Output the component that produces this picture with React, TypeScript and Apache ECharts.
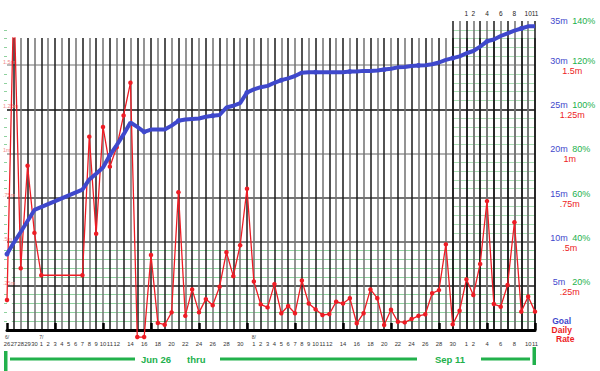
import React, { useEffect, useRef } from 'react';
import * as echarts from 'echarts';

// ---------- data ----------
const days: string[] = [
  '6/26', '6/27', '6/28', '6/29', '6/30',
  '7/1', '7/2', '7/3', '7/4', '7/5', '7/6', '7/7', '7/8', '7/9', '7/10', '7/11', '7/12', '7/13', '7/14', '7/15', '7/16',
  '7/17', '7/18', '7/19', '7/20', '7/21', '7/22', '7/23', '7/24', '7/25', '7/26', '7/27', '7/28', '7/29', '7/30', '7/31',
  '8/1', '8/2', '8/3', '8/4', '8/5', '8/6', '8/7', '8/8', '8/9', '8/10', '8/11', '8/12', '8/13', '8/14', '8/15', '8/16',
  '8/17', '8/18', '8/19', '8/20', '8/21', '8/22', '8/23', '8/24', '8/25', '8/26', '8/27', '8/28', '8/29', '8/30', '8/31',
  '9/1', '9/2', '9/3', '9/4', '9/5', '9/6', '9/7', '9/8', '9/9', '9/10', '9/11',
];

// daily rate (m per day)
const dailyRate: (number | null)[] = [
  0.17, 1.9, 0.35, 0.93, 0.55,
  0.31, null, null, null, null, null, 0.31, 1.095, 0.545, 1.15, 0.925, 1.035, 1.215, 1.4, -0.04, -0.04,
  0.425, 0.04, 0.03, 0.1, 0.78, 0.08, 0.23, 0.1, 0.175, 0.14, 0.245, 0.44, 0.305, 0.48, 0.8,
  0.275, 0.145, 0.128, 0.26, 0.095, 0.136, 0.095, 0.28, 0.15, 0.117, 0.085, 0.09, 0.16, 0.15, 0.18, 0.038,
  0.095, 0.23, 0.18, 0.028, 0.115, 0.047, 0.043, 0.062, 0.08, 0.089, 0.208, 0.226, 0.485, 0.032, 0.109,
  0.287, 0.198, 0.374, 0.73, 0.147, 0.132, 0.255, 0.61, 0.104, 0.19, 0.104,
];

// cumulative progress toward goal (m)
const goalProgress: (number | null)[] = [
  8.6, 9.9, 11.1, 12.35, 13.6,
  null, null, null, null, null, null, 15.9, 17.05, 17.7, 18.4, 19.8, 20.95, 22.15, 23.5, 23.0, 22.45,
  22.7, 22.7, 22.7, 23.15, 23.7, 23.85, 23.9, 23.95, 24.15, 24.27, 24.35, 25.2, 25.4, 25.7, 26.9,
  27.25, 27.5, 27.65, 28.0, 28.3, 28.5, 28.77, 29.15, 29.2, 29.2, 29.2, 29.2, 29.2, 29.2, 29.27, 29.27,
  29.35, 29.35, 29.4, 29.5, 29.6, 29.75, 29.8, 29.9, 29.97, 30.0, 30.1, 30.3, 30.6, 30.8, 31.0,
  31.35, 31.6, 32.1, 32.7, 32.9, 33.3, 33.6, 33.9, 34.15, 34.4, 34.4,
];

const rateTicks = ['Daily', '.25m', '.5m', '.75m', '1m', '1.25m', '1.5m', ''];
const goalTicks = ['Goal', '5m', '10m', '15m', '20m', '25m', '30m', '35m'];
const pctTicks = ['', '20%', '40%', '60%', '80%', '100%', '120%', '140%'];
const leftTicks = ['', '.25m', '.5m', '.75m', '1m', '1.25m', '1.5m', ''];
const bottomLabelIdx = [0, 1, 2, 3, 4, 5, 6, 7, 8, 9, 10, 11, 12, 13, 14, 15, 16, 18, 20, 22, 24, 26, 28, 30, 32, 34,
  36, 37, 38, 39, 40, 41, 42, 43, 44, 45, 46, 47, 49, 51, 53, 55, 57, 59, 61, 63, 65, 67, 68, 70, 72, 74, 76, 77];
const monthStartIdx = [0, 5, 36];
const topLabelDays = ['9/1', '9/2', '9/4', '9/6', '9/8', '9/10', '9/11'];
const rangeText = ['Jun 26', 'thru', 'Sep 11'];
const rateLabelTail = 'Rate';

const BLUE = '#3F48CC';
const RED = '#ED1C24';
const GREEN = '#22B14C';
const FONT = 'Liberation Sans, Arial, sans-serif';

export default function App() {
  const ref = useRef<HTMLDivElement>(null);
  useEffect(() => {
    if (!ref.current) return;
    const chart = echarts.init(ref.current, undefined, { renderer: 'svg' });
    const pxPerM = 309 / 1.75;
    const shown = new Set(bottomLabelIdx);
    const startC = 65;
    const step = 528 / 77;

    const option: any = {
      animation: false,
      backgroundColor: '#fff',
      textStyle: { fontFamily: FONT },
      grid: [
        { left: 7, right: 65, top: 21, bottom: 41 },           // A: horizontal lines, blue line
        { left: 7, right: 65, top: 38, bottom: 41 },           // B: day lines + bottom axis
        { left: 7 + startC * step, right: 65, top: 21, bottom: 41 }, // C: Sep region
        { left: 7 + step * 0.7, right: 65, top: 330 - 0.5 * pxPerM, bottom: 41 }, // D: green minor lines
        { left: 7, right: 65, top: 38, bottom: 29 },           // E: daily rate line
      ],
      xAxis: [
        { gridIndex: 0, type: 'category', data: days, boundaryGap: false, show: false },
        {
          gridIndex: 1, type: 'category', data: days, boundaryGap: false, z: 1,
          axisLine: { show: true, lineStyle: { color: '#000', width: 3 } },
          axisTick: { show: true, inside: true, length: 7, interval: 6, lineStyle: { color: '#000', width: 2.5 } },
          axisLabel: {
            interval: (i: number) => shown.has(i),
            showMinLabel: true,
            showMaxLabel: true,
            margin: 3,
            color: '#333',
            fontFamily: FONT,
            formatter: (v: string, i: number) => {
              const [m, d] = v.split('/');
              const pre = monthStartIdx.includes(i) ? m + '/' : ' ';
              return `{p|${pre}}\n{n|${d}}`;
            },
            rich: {
              p: { fontSize: 5, lineHeight: 7, color: '#444', fontFamily: FONT },
              n: { fontSize: 5.8, lineHeight: 8, color: '#333', fontFamily: FONT },
            },
          },
          splitLine: { show: true, interval: 0, showMinLine: false, lineStyle: { color: ['#1a1a1a', '#707070'], width: 1.5 } },
        },
        {
          gridIndex: 2, type: 'category', data: days.slice(startC), boundaryGap: false, position: 'top', z: 1,
          axisLine: { show: false }, axisTick: { show: false },
          axisLabel: {
            interval: 0, margin: 4, fontSize: 6.5, color: '#222', fontFamily: FONT,
            showMinLabel: true, showMaxLabel: true,
            formatter: (v: string) => (topLabelDays.includes(v) ? v.split('/')[1] : ''),
          },
          splitLine: { show: true, interval: 0, lineStyle: { color: ['#1a1a1a', '#707070'], width: 1.5 } },
        },
        { gridIndex: 3, type: 'category', data: days, boundaryGap: false, show: false },
        { gridIndex: 4, type: 'category', data: days, boundaryGap: false, show: false },
      ],
      yAxis: [
        {
          gridIndex: 0, type: 'value', min: 0, max: 1.75, interval: 0.25, position: 'right', z: 1,
          axisLine: { show: false }, axisTick: { show: false },
          axisLabel: {
            show: true, showMinLabel: true, showMaxLabel: true, margin: 14, align: 'left',
            fontFamily: FONT,
            formatter: (v: number) => {
              const k = Math.round(v / 0.25);
              if (k === 0) return `{gb|${goalTicks[0]}}\n{rb|${rateTicks[0]}}\n{rr|${rateLabelTail}}`;
              if (k === 7) return `{b|${goalTicks[7]}} {g|${pctTicks[7]}}`;
              return `{b|${goalTicks[k]}} {g|${pctTicks[k]}}\n{r|${rateTicks[k]}}`;
            },
            rich: {
              b: { color: BLUE, fontSize: 9, width: 20, align: 'center', lineHeight: 8, fontFamily: FONT },
              g: { color: GREEN, fontSize: 9, lineHeight: 8, fontFamily: FONT },
              r: { color: RED, fontSize: 9, width: 20, align: 'center', lineHeight: 8, fontFamily: FONT },
              gb: { color: BLUE, fontSize: 8.5, fontWeight: 'bold', width: 20, align: 'center', lineHeight: 9, fontFamily: FONT },
              rb: { color: RED, fontSize: 8.5, fontWeight: 'bold', width: 20, align: 'center', lineHeight: 9, fontFamily: FONT },
              rr: { color: RED, fontSize: 8.5, fontWeight: 'bold', lineHeight: 9, padding: [0, 0, 0, 7], fontFamily: FONT },
            },
          },
          splitLine: {
            show: true, showMinLine: false, showMaxLine: false,
            lineStyle: { color: ['#222', '#555', '#444', '#999', '#111', '#a0a0a0'], width: 1.6 },
          },
        },
        { gridIndex: 0, type: 'value', min: 0, max: 35, interval: 5, show: false },
        {
          gridIndex: 0, type: 'value', min: 0, max: 1.75, interval: 0.25, position: 'left', z: 1,
          axisLine: { show: false }, axisTick: { show: false },
          minorTick: { show: true, splitNumber: 5, length: 3, lineStyle: { color: '#8fd19e', width: 1 } },
          axisLabel: {
            show: true, margin: 4, align: 'left', verticalAlign: 'bottom', fontSize: 5.5,
            color: '#f08a8a', fontFamily: FONT,
            formatter: (v: number) => leftTicks[Math.round(v / 0.25)] || '',
          },
          splitLine: { show: false },
        },
        { gridIndex: 1, type: 'value', min: 0, max: 1, show: false },
        {
          gridIndex: 2, type: 'value', min: 0, max: 1.75, interval: 0.25, z: 0,
          axisLine: { show: false }, axisTick: { show: false }, axisLabel: { show: false },
          splitLine: { show: false },
          minorTick: { show: false, splitNumber: 5 },
          minorSplitLine: { show: true, lineStyle: { color: '#aadcb4', width: 1 } },
        },
        {
          gridIndex: 3, type: 'value', min: 0, max: 0.5, interval: 0.25, z: 0,
          axisLine: { show: false }, axisTick: { show: false }, axisLabel: { show: false },
          splitLine: { show: false },
          minorTick: { show: false, splitNumber: 5 },
          minorSplitLine: { show: true, lineStyle: { color: '#8fd19e', width: 1 } },
        },
        { gridIndex: 4, type: 'value', min: -12 / pxPerM, max: 292 / pxPerM, show: false },
      ],
      series: [
        {
          name: 'Daily Rate', type: 'line', xAxisIndex: 4, yAxisIndex: 6, data: dailyRate,
          connectNulls: true, clip: true, z: 3,
          symbol: 'circle', symbolSize: 4.5,
          lineStyle: { color: RED, width: 1.3 }, itemStyle: { color: RED },
        },
        {
          name: 'Goal', type: 'line', xAxisIndex: 0, yAxisIndex: 1, data: goalProgress,
          connectNulls: true, z: 4,
          symbol: 'circle', symbolSize: 5,
          lineStyle: { color: BLUE, width: 4 }, itemStyle: { color: BLUE },
        },
      ],
      graphic: [
        { type: 'rect', shape: { x: 4, y: 351, width: 3.5, height: 20 }, style: { fill: GREEN } },
        { type: 'rect', shape: { x: 10, y: 357.5, width: 125, height: 3 }, style: { fill: GREEN } },
        { type: 'text', x: 141, y: 359, style: { text: rangeText[0], fill: GREEN, font: `bold 9.5px ${FONT}`, verticalAlign: 'middle' } },
        { type: 'text', x: 187, y: 359, style: { text: rangeText[1], fill: GREEN, font: `bold 9.5px ${FONT}`, verticalAlign: 'middle' } },
        { type: 'rect', shape: { x: 220, y: 357.5, width: 197, height: 3 }, style: { fill: GREEN } },
        { type: 'text', x: 435, y: 359, style: { text: rangeText[2], fill: GREEN, font: `bold 9.5px ${FONT}`, verticalAlign: 'middle' } },
        { type: 'rect', shape: { x: 481, y: 357.5, width: 49, height: 3 }, style: { fill: GREEN } },
        { type: 'rect', shape: { x: 532.5, y: 347, width: 3.5, height: 18 }, style: { fill: GREEN } },
      ],
    };
    chart.setOption(option);
    return () => chart.dispose();
  }, []);
  return <div ref={ref} style={{ position: 'absolute', left: 0, top: 0, width: 600, height: 371, background: '#fff' }} />;
}
